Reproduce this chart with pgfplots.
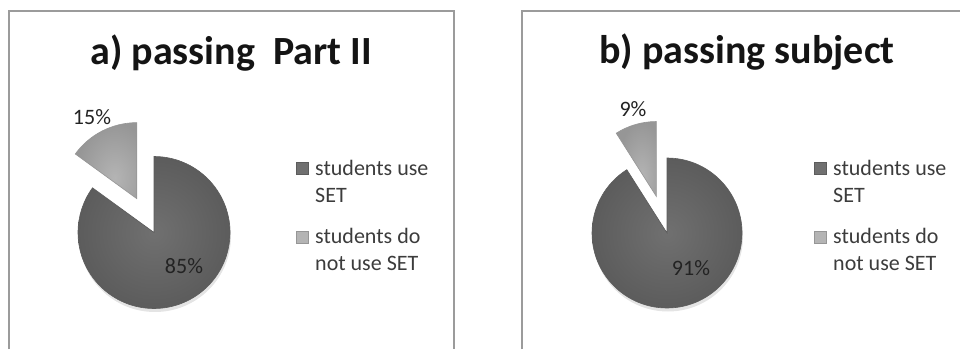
\documentclass[border=0pt]{standalone}
\usepackage{pgfplots}
\pgfplotsset{compat=1.18}
\usepackage{pgfplotstable}
\usepackage{fontspec}
\setmainfont{Carlito}

\pgfplotstableread{
category value
use 85
notuse 15
}\partII
\pgfplotstableread{
category value
use 91
notuse 9
}\subject

\definecolor{darkslice}{RGB}{112,112,112}
\definecolor{darkrim}{RGB}{92,92,92}
\definecolor{lightslice}{RGB}{180,180,180}
\definecolor{lightrim}{RGB}{150,150,150}
\definecolor{framegray}{RGB}{155,155,155}
\definecolor{titletext}{RGB}{20,20,20}
\definecolor{legtext}{RGB}{60,60,60}
\definecolor{labtext}{RGB}{35,35,35}
\definecolor{shadow}{RGB}{228,228,228}

% angles from the data
\pgfplotstablegetelem{0}{value}\of\partII \let\aUse\pgfplotsretval
\pgfplotstablegetelem{1}{value}\of\partII \let\aNot\pgfplotsretval
\pgfplotstablegetelem{0}{value}\of\subject \let\bUse\pgfplotsretval
\pgfplotstablegetelem{1}{value}\of\subject \let\bNot\pgfplotsretval
\pgfmathsetmacro\aEndUse{90-3.6*\aUse}
\pgfmathsetmacro\aEndNot{90+3.6*\aNot}
\pgfmathsetmacro\aMidNot{90+1.8*\aNot}
\pgfmathsetmacro\bEndUse{90-3.6*\bUse}
\pgfmathsetmacro\bEndNot{90+3.6*\bNot}
\pgfmathsetmacro\bMidNot{90+1.8*\bNot}

\begin{document}
\begin{tikzpicture}
\begin{axis}[
  x=1pt, y=1pt,
  xmin=0, xmax=960, ymin=0, ymax=349,
  hide axis, clip=false,
  anchor=origin, at={(0,0)},
]
% frames
\draw[framegray, line width=2pt] (axis cs:9,0) -- (axis cs:9,338) -- (axis cs:454,338) -- (axis cs:454,0);
\draw[framegray, line width=2pt] (axis cs:522,0) -- (axis cs:522,338) -- (axis cs:960,338);

% titles
\node[anchor=base, text=titletext, font=\fontsize{40}{46}\selectfont\bfseries] at (axis cs:231,285) {a) passing\ \ Part II};
\node[anchor=base, text=titletext, font=\fontsize{40}{46}\selectfont\bfseries] at (axis cs:747,286) {b) passing subject};

% pie a
\fill[shadow] (axis cs:155,113) -- ++(90:76pt) arc[start angle=90, end angle=\aEndUse, radius=76pt] -- cycle;
\shade[inner color=darkslice, outer color=darkrim, draw=darkrim, line width=0.6pt]
  (axis cs:154,116.5) -- ++(90:76pt) arc[start angle=90, end angle=\aEndUse, radius=76pt] -- cycle;
\shade[inner color=lightslice, outer color=lightrim, draw=lightrim, line width=0.6pt]
  (axis cs:154,116.5) ++(\aMidNot:38pt) -- ++(90:76pt) arc[start angle=90, end angle=\aEndNot, radius=76pt] -- cycle;
\node[text=labtext, font=\fontsize{22}{26}\selectfont] at (axis cs:92,232) {15\%};
\node[text=labtext, font=\fontsize{22}{26}\selectfont] at (axis cs:184,83) {85\%};

% pie b
\fill[shadow] (axis cs:668,112.5) -- ++(90:75pt) arc[start angle=90, end angle=\bEndUse, radius=75pt] -- cycle;
\shade[inner color=darkslice, outer color=darkrim, draw=darkrim, line width=0.6pt]
  (axis cs:667,116) -- ++(90:75pt) arc[start angle=90, end angle=\bEndUse, radius=75pt] -- cycle;
\shade[inner color=lightslice, outer color=lightrim, draw=lightrim, line width=0.6pt]
  (axis cs:667,116) ++(\bMidNot:38pt) -- ++(90:75pt) arc[start angle=90, end angle=\bEndNot, radius=75pt] -- cycle;
\node[text=labtext, font=\fontsize{22}{26}\selectfont] at (axis cs:633,240) {9\%};
\node[text=labtext, font=\fontsize{22}{26}\selectfont] at (axis cs:691,80.5) {91\%};

% legend a
\fill[darkslice, draw=darkrim] (axis cs:296,175) rectangle (axis cs:308,187);
\fill[lightslice, draw=lightrim] (axis cs:296,106) rectangle (axis cs:308,118);
\begin{scope}[every node/.style={anchor=base west, text=legtext, font=\fontsize{22}{26}\selectfont, inner sep=0pt}]
\node at (axis cs:315,174) {students use};
\node at (axis cs:315,147) {SET};
\node at (axis cs:315,106) {students do};
\node at (axis cs:315,79) {not use SET};
\end{scope}

% legend b
\fill[darkslice, draw=darkrim] (axis cs:814,175) rectangle (axis cs:826,187);
\fill[lightslice, draw=lightrim] (axis cs:814,106) rectangle (axis cs:826,118);
\begin{scope}[every node/.style={anchor=base west, text=legtext, font=\fontsize{22}{26}\selectfont, inner sep=0pt}]
\node at (axis cs:833,174) {students use};
\node at (axis cs:833,147) {SET};
\node at (axis cs:833,106) {students do};
\node at (axis cs:833,79) {not use SET};
\end{scope}
\end{axis}
\pgfresetboundingbox
\path (0,0) rectangle (960pt,349pt);
\end{tikzpicture}
\end{document}
